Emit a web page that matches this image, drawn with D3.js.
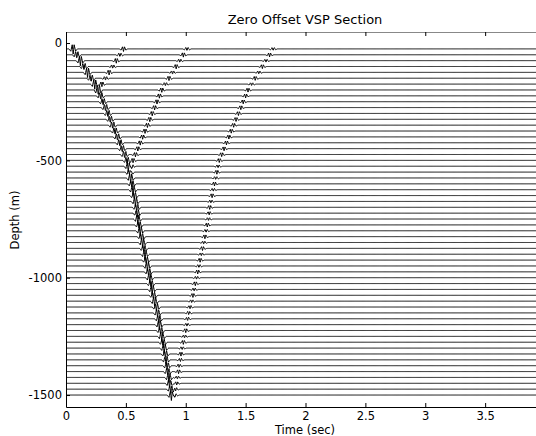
<!DOCTYPE html>
<html>
<head>
<meta charset="utf-8">
<script src="https://cdn.jsdelivr.net/npm/d3@7"></script>
<style>
  body { margin: 0; background: #fff; }
  text { font-family: "DejaVu Sans", sans-serif; fill: #000; }
</style>
</head>
<body>
<div id="chart"></div>
<script>
// receiver depths (m), one trace each
const depths = [25, 50, 75, 100, 125, 150, 175, 200, 225, 250, 275, 300, 325, 350, 375, 400,
  425, 450, 475, 500, 525, 550, 575, 600, 625, 650, 675, 700, 725, 750, 775, 800, 825, 850,
  875, 900, 925, 950, 975, 1000, 1025, 1050, 1075, 1100, 1125, 1150, 1175, 1200, 1225, 1250,
  1275, 1300, 1325, 1350, 1375, 1400, 1425, 1450, 1475, 1500];

// first-break (down-going direct) times picked per trace, sec
const directTimes = [0.06, 0.09, 0.12, 0.15, 0.18, 0.21, 0.24, 0.27, 0.29, 0.31, 0.33, 0.35,
  0.37, 0.39, 0.41, 0.43, 0.45, 0.47, 0.49, 0.51, 0.52, 0.53, 0.54, 0.55, 0.56, 0.57, 0.58,
  0.59, 0.595, 0.60, 0.61, 0.62, 0.63, 0.64, 0.65, 0.66, 0.67, 0.68, 0.69, 0.70, 0.71, 0.72,
  0.73, 0.74, 0.755, 0.765, 0.775, 0.78, 0.79, 0.80, 0.81, 0.82, 0.83, 0.835, 0.845, 0.85,
  0.86, 0.865, 0.875, 0.88];

// up-going reflections, from the top trace downwards
const upgoing1 = [0.48, 0.45, 0.42, 0.39, 0.36, 0.33, 0.30, 0.27];
const upgoing2 = [1.01, 0.98, 0.95, 0.92, 0.89, 0.86, 0.83, 0.80, 0.78, 0.76, 0.74, 0.72,
  0.70, 0.68, 0.66, 0.64, 0.62, 0.60, 0.58, 0.56, 0.55, 0.54];
const upgoing3 = [1.73, 1.70, 1.67, 1.64, 1.61, 1.58, 1.55, 1.52, 1.50, 1.48, 1.46, 1.44,
  1.42, 1.40, 1.38, 1.36, 1.34, 1.32, 1.30, 1.28, 1.27, 1.26, 1.25, 1.24, 1.23, 1.22, 1.21,
  1.20, 1.195, 1.19, 1.18, 1.17, 1.16, 1.15, 1.14, 1.13, 1.12, 1.11, 1.10, 1.09, 1.08, 1.07,
  1.06, 1.05, 1.035, 1.025, 1.015, 1.01, 1.00, 0.99, 0.98, 0.97, 0.96, 0.955, 0.945, 0.94,
  0.93, 0.925, 0.915, 0.91];

// source wavelet (lag in sec, relative amplitude)
const waveletLag = [-0.035, -0.02, -0.008, 0, 0.008, 0.02, 0.035];
const waveletShape = [0, -0.45, 0.8, -1, 0.8, -0.45, 0];

const xTicks = [0, 0.5, 1, 1.5, 2, 2.5, 3, 3.5];
const yTicks = [0, -500, -1000, -1500];

const W = 536, H = 436;
const MARGIN = { LEFT: 66, TOP: 32, BOTTOM: 407, RIGHT: 545 };

const svg = d3.select("#chart").append("svg")
    .attr("width", W)
    .attr("height", H);

const x = d3.scaleLinear().domain([0, 4]).range([MARGIN.LEFT, MARGIN.RIGHT]);
const y = d3.scaleLinear().domain([47, -1551]).range([MARGIN.TOP, MARGIN.BOTTOM]);
const wavelet = d3.scaleLinear().domain(waveletLag).range(waveletShape).clamp(true);

// amplitudes in metres of trace deflection
const traces = depths.map((d, i) => {
    const events = [{ t: directTimes[i], amp: 22 }];
    if (upgoing1[i] != null) events.push({ t: upgoing1[i], amp: 11 });
    if (upgoing2[i] != null) events.push({ t: upgoing2[i], amp: 10 });
    if (upgoing3[i] != null) events.push({ t: upgoing3[i], amp: 9 });
    return { depth: -d, events };
});

const sampleTimes = d3.range(0, 4.0001, 0.004);

const line = d3.line()
    .x(p => x(p.t))
    .y(p => y(p.z));

svg.append("g")
    .selectAll("path")
    .data(traces)
    .join("path")
    .attr("fill", "none")
    .attr("stroke", "#000")
    .attr("stroke-width", 1)
    .attr("d", tr => line(sampleTimes.map(s => ({
        t: s,
        z: tr.depth + d3.sum(tr.events, e => e.amp * wavelet(s - e.t))
    }))));

// axes (ticks pointing inwards)
const fmt = d => String(d);

svg.append("g")
    .attr("transform", `translate(0,${MARGIN.BOTTOM})`)
    .call(d3.axisBottom(x).tickValues(xTicks).tickFormat(fmt).tickSizeInner(-4).tickSizeOuter(0).tickPadding(5))
    .call(g => g.selectAll("text").style("font-size", "11.5px").style("font-family", "DejaVu Sans"));

svg.append("g")
    .attr("transform", `translate(0,${MARGIN.TOP})`)
    .call(d3.axisTop(x).tickValues(xTicks).tickFormat("").tickSizeInner(-4).tickSizeOuter(0))
    .call(g => g.select(".domain").attr("stroke", "#888"));

svg.append("g")
    .attr("transform", `translate(${MARGIN.LEFT},0)`)
    .call(d3.axisLeft(y).tickValues(yTicks).tickFormat(fmt).tickSizeInner(-4).tickSizeOuter(0).tickPadding(4))
    .call(g => g.selectAll("text").style("font-size", "11.5px").style("font-family", "DejaVu Sans"));

svg.append("text")
    .attr("x", 305)
    .attr("y", 24)
    .attr("text-anchor", "middle")
    .style("font-size", "13px")
    .text("Zero Offset VSP Section");

svg.append("text")
    .attr("x", 305)
    .attr("y", 434)
    .attr("text-anchor", "middle")
    .style("font-size", "11.5px")
    .text("Time (sec)");

svg.append("text")
    .attr("transform", "translate(19,220) rotate(-90)")
    .attr("text-anchor", "middle")
    .style("font-size", "11.5px")
    .text("Depth (m)");
</script>
</body>
</html>
